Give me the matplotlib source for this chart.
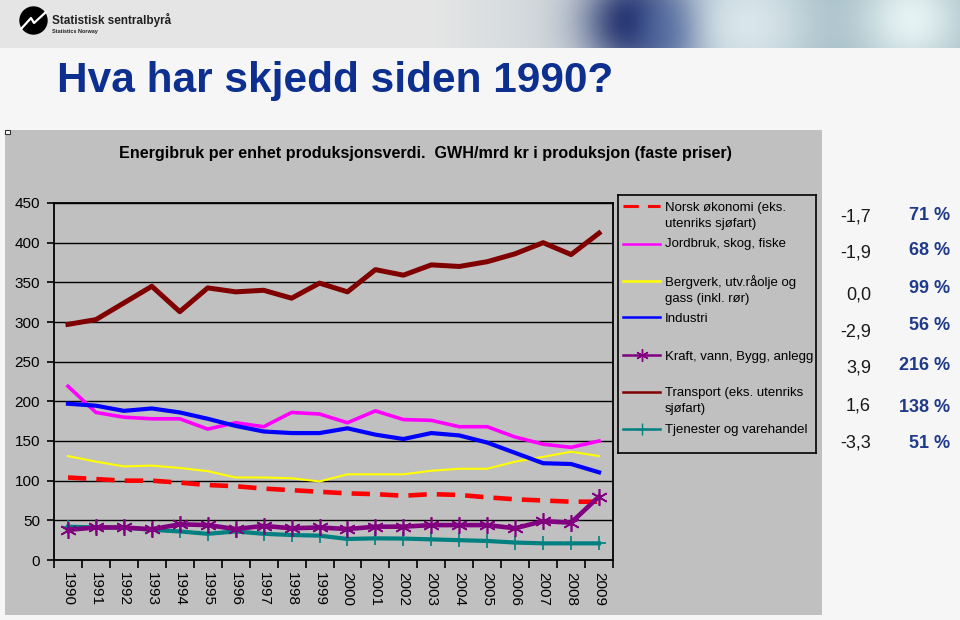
import numpy as np
import matplotlib
matplotlib.use('Agg')
import matplotlib.pyplot as plt
from matplotlib.patches import Rectangle, Circle

years = [str(y) for y in range(1990, 2010)]

norsk = [104, 102, 100, 100, 97.5, 94.5, 93, 90, 88, 86, 84, 83, 81, 83, 82, 79, 76.5, 75, 73.5, 73.5]
jordbruk = [219, 186, 180, 178, 178, 165, 173, 168, 186, 184, 173, 188, 177, 176, 168, 168, 155, 146, 142, 150]
bergverk = [131, 124, 118, 119, 116, 112, 104, 104, 103, 99, 108, 108, 108, 112.5, 115, 115, 124, 130, 136.5, 131]
industri = [197, 194.5, 188, 191, 186, 178, 169, 162, 160, 160, 166, 158, 152.5, 160, 157, 148, 135, 122, 121, 110.5]
kraft = [38, 41, 41, 38.7, 45, 44, 39, 43, 40, 41, 39, 42, 42, 44, 44, 44, 40, 49, 47, 80]
transport = [297, 303, 324, 345, 313, 343, 338, 340, 330, 349, 338, 366, 359, 372, 370, 376, 386, 400, 385, 412]
tjenester = [42, 41, 41, 38, 36, 33, 36, 33, 31.5, 30.7, 26.5, 27.3, 27, 26, 25, 24, 22, 21, 21, 21]

legend_labels = ['Norsk økonomi (eks.\nutenriks sjøfart)', 'Jordbruk, skog, fiske',
                 'Bergverk, utv.råolje og\ngass (inkl. rør)', 'Industri',
                 'Kraft, vann, Bygg, anlegg', 'Transport (eks. utenriks\nsjøfart)',
                 'Tjenester og varehandel']
change = ['-1,7', '-1,9', '0,0', '-2,9', '3,9', '1,6', '-3,3']
share = ['71 %', '68 %', '99 %', '56 %', '216 %', '138 %', '51 %']

plt.rcParams['font.family'] = ['Liberation Sans', 'DejaVu Sans']

W, H = 960, 620
fig = plt.figure(figsize=(9.6, 6.2), dpi=100)
fig.patch.set_facecolor('#f6f6f6')

def fx(x):
    return x / W

def fy(y):
    return 1 - y / H

# header band
hax = fig.add_axes([0, fy(48), 1, 48 / H])
xx = np.linspace(0, 1, 960)[None, :]
yy = np.linspace(0, 1, 48)[:, None]
img = np.zeros((48, 960, 3))
base = np.array([0.90, 0.90, 0.90])
right = np.array([0.62, 0.72, 0.76])
g = np.clip((xx - 0.45) / 0.4, 0, 1)
for c in range(3):
    img[:, :, c] = base[c] * (1 - g) + right[c] * g
for cx, cy, r, col in [(0.66, 0.45, 0.035, (0.10, 0.15, 0.40)), (0.70, 0.6, 0.03, (0.20, 0.30, 0.55)),
                       (0.78, 0.5, 0.05, (0.85, 0.90, 0.92)), (0.95, 0.4, 0.04, (0.90, 0.95, 0.95))]:
    d = np.exp(-(((xx - cx) * 960) ** 2 + ((yy - cy) * 48) ** 2) / (2 * (r * 960) ** 2))
    for c in range(3):
        img[:, :, c] = img[:, :, c] * (1 - d) + col[c] * d
hax.imshow(img, extent=(0, 960, 48, 0), aspect='auto')
hax.set_xlim(0, 960)
hax.set_ylim(48, 0)
hax.axis('off')
hax.add_patch(Circle((33.5, 20.5), 13.5, color='black'))
hax.plot([21, 31, 34, 46], [29, 18, 23, 12], color='white', lw=1.6)
hax.text(52, 20, 'Statistisk sentralbyrå', fontsize=8.5, fontweight='bold', color='#222222', va='center')
hax.text(52, 31, 'Statistics Norway', fontsize=4, fontweight='bold', color='#222222', va='center')

fig.text(fx(57), fy(92), 'Hva har skjedd siden 1990?', fontsize=30.5, fontweight='bold',
         color='#0d2f8f', va='baseline')

# grey chart panel
fig.patches.append(Rectangle((fx(5), fy(615)), fx(822 - 5), (615 - 130) / H,
                             transform=fig.transFigure, facecolor='#c0c0c0', edgecolor='none', zorder=-2))
fig.patches.append(Rectangle((fx(5), fy(134)), fx(5), 4 / H, transform=fig.transFigure,
                             facecolor='white', edgecolor='#333333', lw=0.8, zorder=-1))
fig.text(fx(425), fy(153), 'Energibruk per enhet produksjonsverdi.  GWH/mrd kr i produksjon (faste priser)',
         fontsize=11.6, fontweight='bold', ha='center', va='center', color='black')

ax = fig.add_axes([fx(54), fy(560), fx(613 - 54), (560 - 203) / H])
ax.set_facecolor('#c0c0c0')
x = np.arange(len(years))
ax.plot(x, norsk, color='#ff0000', lw=3.3, dashes=(4, 2.2), zorder=3)
ax.plot(x, jordbruk, color='#ff00ff', lw=2.6, zorder=3)
ax.plot(x, bergverk, color='#ffff00', lw=1.5, zorder=3)
ax.plot(x, industri, color='#0000ff', lw=3.0, zorder=3)
ax.plot(x, kraft, color='#800080', lw=3.3, marker=(6, 2, 0), ms=12, mew=1.2, zorder=4)
ax.plot(x, transport, color='#800000', lw=3.6, zorder=3)
ax.plot(x, tjenester, color='#008080', lw=3.0, marker='+', ms=10, mew=1.2, zorder=3)

ax.set_xlim(-0.5, len(years) - 0.5)
ax.set_ylim(0, 450)
ax.set_yticks(range(0, 451, 50))
ax.yaxis.grid(True, color='black', lw=1)
ax.set_axisbelow(True)
ax.set_xticks(x)
ax.set_xticklabels(years, rotation=-90, fontsize=11)
ax.tick_params(axis='x', length=0, pad=9)
ax.set_xticks(np.arange(-0.5, len(years)), minor=True)
ax.tick_params(axis='x', which='minor', length=6, width=1.2, color='black')
ax.tick_params(axis='y', length=5, width=1.2, labelsize=11, pad=5)
for s in ax.spines.values():
    s.set_linewidth(1.3)

# legend box
lax = fig.add_axes([fx(618), fy(453), fx(816 - 618), (453 - 195) / H])
lax.set_facecolor('#c0c0c0')
lax.set_xlim(618, 816)
lax.set_ylim(453, 195)
lax.set_xticks([])
lax.set_yticks([])
for s in lax.spines.values():
    s.set_linewidth(1.2)
handle_y = [206, 244, 281, 317, 355, 392, 429]
text_y = [216, 244, 290, 319, 357, 401, 430]
styles = [dict(color='#ff0000', lw=2.2, dashes=(5, 3)), dict(color='#ff00ff', lw=1.8),
          dict(color='#ffff00', lw=1.8), dict(color='#0000ff', lw=1.8),
          dict(color='#800080', lw=1.8, marker=(6, 2, 0), ms=9, markevery=[1]),
          dict(color='#800000', lw=1.8), dict(color='#008080', lw=1.8, marker='+', ms=9, markevery=[1])]
for hy, ty, lab, st in zip(handle_y, text_y, legend_labels, styles):
    lax.plot([623, 641.5, 660], [hy, hy, hy], **st)
    lax.text(665, ty, lab, fontsize=9.5, va='center', ha='left', linespacing=1.35)

# right column
num_y = [217, 253, 295, 332, 368, 406, 443]
pct_y = [216, 251, 289, 325, 366, 407, 443]
for ny, py, c, p in zip(num_y, pct_y, change, share):
    fig.text(fx(871), fy(ny), c, fontsize=13, ha='right', va='center', color='#1a1a1a')
    fig.text(fx(950), fy(py), p, fontsize=13, ha='right', va='center', color='#1f3a8a', fontweight='bold')

fig.savefig('out.png', dpi=100, facecolor=fig.get_facecolor())
